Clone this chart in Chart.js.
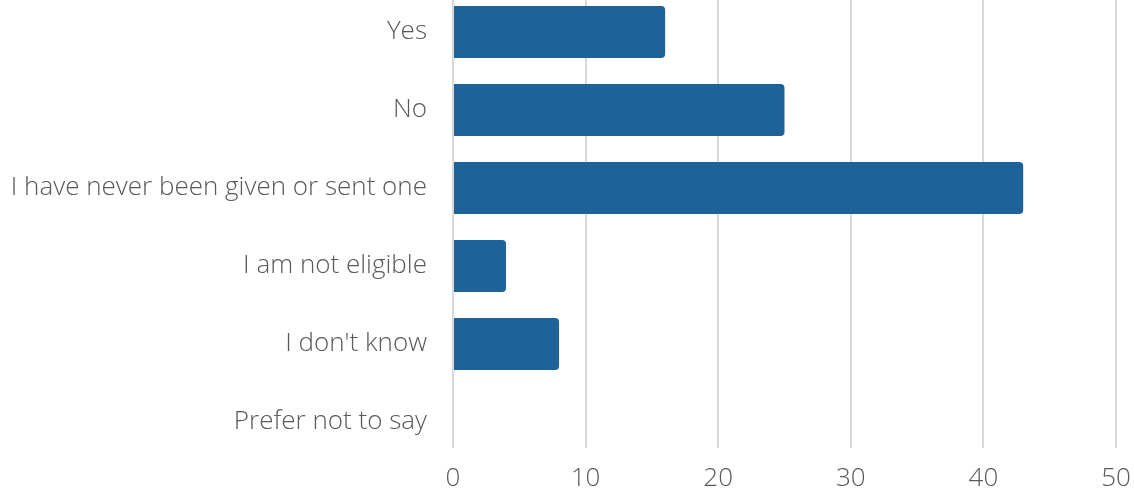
<!DOCTYPE html>
<html>
<head>
<meta charset="utf-8">
<script src="https://cdn.jsdelivr.net/npm/chart.js@4/dist/chart.umd.min.js"></script>
<style>
  html, body { margin: 0; padding: 0; background: #fff; }
  #wrap { width: 1134px; height: 492px; }
</style>
</head>
<body>
<div id="wrap"><canvas id="answersChart"></canvas></div>
<script>
var answers = ['Yes', 'No', 'I have never been given or sent one', 'I am not eligible', "I don't know", 'Prefer not to say'];
var counts = [16, 25, 43, 4, 8, 0];
var xTicks = [0, 10, 20, 30, 40, 50];

var labelFont = { family: 'Open Sans', size: 26, weight: '300' };

// keep the plot area fixed: no extra room for overhanging tick labels
function noOverhang(scale) {
    scale.paddingTop = 0;
    scale.paddingBottom = 0;
    scale.paddingLeft = 0;
    scale.paddingRight = 0;
}

var ctx = document.getElementById('answersChart').getContext('2d');
var answersChart = new Chart(ctx, {
    type: 'bar',
    data: {
        datasets: [{
            label: 'Responses',
            data: counts.map(function (c, i) { return { x: c, y: i }; }),
            backgroundColor: '#1d6298',
            borderRadius: 4,
            barPercentage: 0.667,
            categoryPercentage: 1
        }]
    },
    options: {
        indexAxis: 'y',
        responsive: true,
        maintainAspectRatio: false,
        animation: false,
        layout: { autoPadding: false, padding: { top: 0, right: 18, bottom: 0, left: 0 } },
        plugins: {
            legend: { display: false },
            tooltip: { enabled: false }
        },
        scales: {
            x: {
                type: 'linear',
                min: 0,
                max: 50,
                afterBuildTicks: function (scale) {
                    scale.ticks = xTicks.map(function (v) { return { value: v }; });
                },
                afterFit: function (scale) { scale.height = 44; noOverhang(scale); },
                grid: { color: '#d9d9d9', lineWidth: 2, drawTicks: false },
                border: { display: false },
                ticks: { font: labelFont, color: '#595959', padding: 15 }
            },
            y: {
                // answers sit at 0..5; the top one is partly cut off above the plot
                type: 'linear',
                offset: false,
                bounds: 'data',
                reverse: true,
                min: -0.41,
                max: 5.333,
                afterBuildTicks: function (scale) {
                    scale.ticks = answers.map(function (a, i) { return { value: i }; });
                },
                afterFit: function (scale) { scale.width = 453; noOverhang(scale); },
                grid: { display: false, drawTicks: false, offset: false },
                border: { display: false },
                ticks: {
                    font: labelFont,
                    color: '#595959',
                    padding: 26,
                    callback: function (v) { return answers[v]; }
                }
            }
        }
    }
});
</script>
</body>
</html>
